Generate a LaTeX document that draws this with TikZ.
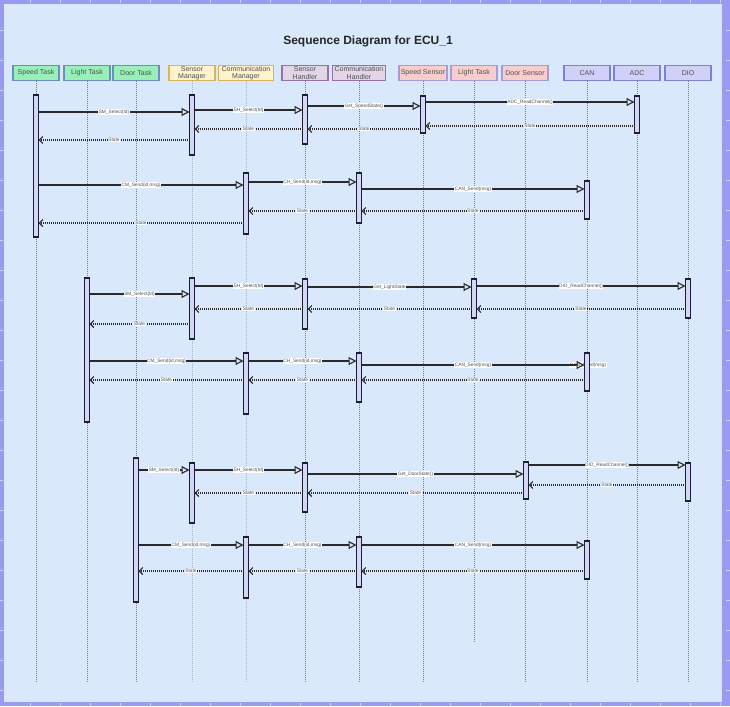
\documentclass[tikz,border=0pt]{standalone}
\usepackage{fontspec}
\setmainfont{Liberation Sans}
\usetikzlibrary{arrows.meta}
\definecolor{frameC}{HTML}{9A9AF0}
\definecolor{tickC}{HTML}{D0D0FF}
\definecolor{panelC}{HTML}{DAE8FC}
\definecolor{greenF}{HTML}{98F0B8}
\definecolor{greenD}{HTML}{6C8EBF}
\definecolor{yelF}{HTML}{FFF2CC}
\definecolor{yelD}{HTML}{D6B656}
\definecolor{purF}{HTML}{E1D5E7}
\definecolor{purD}{HTML}{9673A6}
\definecolor{redF}{HTML}{F8CECC}
\definecolor{redD}{HTML}{A89CD8}
\definecolor{bluF}{HTML}{D0D0F8}
\definecolor{bluD}{HTML}{7F7FD8}
\definecolor{barF}{HTML}{D4D6F4}
\definecolor{barD}{HTML}{1C1C3C}
\definecolor{lifeC}{HTML}{6878B0}
\definecolor{lifeM}{HTML}{B0B4B8}
\definecolor{txtC}{HTML}{505050}
\definecolor{lineC}{HTML}{2A2A2A}
\tikzset{
  hdr/.style={draw, line width=1.3pt, minimum width=46pt, minimum height=15pt, inner sep=0pt,
    align=center, font=\fontsize{7}{7.4}\selectfont, text=txtC},
  hdrw/.style={hdr, minimum width=55pt},
  gbox/.style={hdr, fill=greenF, draw=greenD},
  ybox/.style={fill=yelF, draw=yelD},
  pbox/.style={fill=purF, draw=purD},
  rbox/.style={hdr, fill=redF, draw=redD},
  bbox/.style={hdr, fill=bluF, draw=bluD},
  life/.style={draw=lifeC, line width=0.8pt, dash pattern=on 1pt off 1pt},
  lifem/.style={draw=lifeM, line width=1pt, dash pattern=on 1pt off 1pt},
  actbar/.style={draw=barD, fill=barF, line width=1.4pt, minimum width=5pt, inner sep=0pt, outer sep=0pt},
  call/.style={draw=lineC, line width=1.3pt, -{Triangle[open, length=8pt, width=8pt, line width=1.1pt]}},
  ret/.style={draw=lineC, line width=1.1pt, dash pattern=on 1pt off 1pt, -{Straight Barb[length=3.5pt, width=7pt, line width=1.1pt]}},
  lbl/.style={fill=white, inner sep=0.6pt, text=txtC, font=\fontsize{4.8}{5}\selectfont},
}
\newcommand\abar[4]{\node[actbar, minimum height={(#4-#3)*1pt}] (#1) at (#2,{(#3+#4)/2}) {};}
\newcommand\mcall[4]{\draw[call] (#1.east |- 0,#3) -- node[lbl]{#4} (#2.west |- 0,#3);}
\newcommand\mret[4]{\draw[ret] (#1.west |- 0,#3) -- node[lbl]{#4} (#2.east |- 0,#3);}
\begin{document}
\begin{tikzpicture}[x=1pt,y=-1pt]
\useasboundingbox (0,0) rectangle (730,706);
\fill[frameC] (0,0) rectangle (730,706);
\fill[panelC] (4,4) rectangle (722,702);
\foreach \t in {30,60,...,720} {
  \draw[tickC, line width=0.7pt] (\t,0) -- (\t,3);
  \draw[tickC, line width=0.7pt] (\t,702.5) -- (\t,706);
}
\foreach \t in {30,60,...,690} {
  \draw[tickC, line width=0.7pt] (0,\t) -- (3,\t);
  \draw[tickC, line width=0.7pt] (726,\t) -- (730,\t);
}
\node[font=\bfseries\fontsize{12}{14}\selectfont, text=black!85] (title) at (368,41) {Sequence Diagram for ECU\_1};
% headers
\node[gbox] (st) at (36,73) {Speed Task};
\node[gbox] (lt) at (87,73) {Light Task};
\node[gbox] (dt) at (136,73) {Door Task};
\node[hdr, ybox] (sm) at (192,73) {Sensor\\Manager};
\node[hdrw, ybox] (cm) at (246,73) {Communication\\Manager};
\node[hdr, pbox] (sh) at (305,73) {Sensor\\Handler};
\node[hdrw, pbox, minimum width=53pt] (ch) at (359,73) {Communication\\Handler};
\node[rbox, minimum width=48pt] (ss) at (423,73) {Speed Sensor};
\node[rbox] (ls) at (474,73) {Light Task};
\node[rbox] (ds) at (525,73) {Door Sensor};
\node[bbox] (can) at (587,73) {CAN};
\node[bbox] (adc) at (637,73) {ADC};
\node[bbox] (dio) at (688,73) {DIO};
% lifelines
\foreach \n in {st,lt,dt,sh,ch,ss,ds,can,adc,dio} {
  \draw[life] (\n.south) -- (\n.south |- 0,683);
}
\draw[lifem] (sm.south) -- (sm.south |- 0,683);
\draw[lifem] (cm.south) -- (cm.south |- 0,683);
\draw[life] (ls.south) -- (ls.south |- 0,643);
% ---------- section 1
\abar{a1}{36}{95}{237}
\abar{a2}{192}{95}{155}
\abar{a3}{305}{95}{144}
\abar{a4}{423}{96}{133}
\abar{a5}{637}{96}{133}
\mcall{a1}{a2}{112}{SM\_Select(Id)}
\mcall{a2}{a3}{110}{SH\_Select(Id)}
\mcall{a3}{a4}{106}{Get\_SpeedState()}
\mcall{a4}{a5}{102}{ADC\_ReadChannel()}
\mret{a5}{a4}{126}{State}
\mret{a4}{a3}{129}{State}
\mret{a3}{a2}{129}{State}
\mret{a2}{a1}{140}{State}
\abar{a6}{246}{173}{234}
\abar{a7}{359}{173}{223}
\abar{a8}{587}{181}{219}
\mcall{a1}{a6}{185}{CM\_Send(id,msg)}
\mcall{a6}{a7}{182}{CH\_Send(id,msg)}
\mcall{a7}{a8}{189}{CAN\_Send(msg)}
\mret{a8}{a7}{211}{State}
\mret{a7}{a6}{211}{State}
\mret{a6}{a1}{223}{State}
% ---------- section 2
\abar{b1}{87}{278}{422}
\abar{b2}{192}{278}{339}
\abar{b3}{305}{279}{329}
\abar{b4}{474}{279}{318}
\abar{b5}{688}{279}{318}
\mcall{b1}{b2}{294}{SM\_Select(Id)}
\mcall{b2}{b3}{286}{SH\_Select(Id)}
\mcall{b3}{b4}{287}{Get\_LightState}
\mcall{b4}{b5}{286}{DIO\_ReadChannel()}
\mret{b5}{b4}{309}{State}
\mret{b4}{b3}{309}{State}
\mret{b3}{b2}{309}{State}
\mret{b2}{b1}{324}{State}
\node[lbl] (ghost) at (588,365) {CAN\_Send(msg)};
\abar{b6}{246}{353}{414}
\abar{b7}{359}{353}{402}
\abar{b8}{587}{353}{391}
\mcall{b1}{b6}{361}{CM\_Send(id,msg)}
\mcall{b6}{b7}{361}{CH\_Send(id,msg)}
\mcall{b7}{b8}{365}{CAN\_Send(msg)}
\mret{b8}{b7}{380}{State}
\mret{b7}{b6}{380}{State}
\mret{b6}{b1}{380}{State}
% ---------- section 3
\abar{c1}{136}{458}{602}
\abar{c2}{192}{463}{523}
\abar{c3}{305}{463}{512}
\abar{c4}{526}{462}{499}
\abar{c5}{688}{463}{501}
\mcall{c1}{c2}{470}{SM\_Select(Id)}
\mcall{c2}{c3}{470}{SH\_Select(Id)}
\mcall{c3}{c4}{474}{Get\_DoorState()}
\mcall{c4}{c5}{465}{DIO\_ReadChannel()}
\mret{c5}{c4}{485}{State}
\mret{c4}{c3}{493}{State}
\mret{c3}{c2}{493}{State}
\abar{c6}{246}{537}{598}
\abar{c7}{359}{537}{587}
\abar{c8}{587}{541}{579}
\mcall{c1}{c6}{545}{CM\_Send(id,msg)}
\mcall{c6}{c7}{545}{CH\_Send(id,msg)}
\mcall{c7}{c8}{545}{CAN\_Send(msg)}
\mret{c8}{c7}{571}{State}
\mret{c7}{c6}{571}{State}
\mret{c6}{c1}{571}{State}
\end{tikzpicture}
\end{document}
